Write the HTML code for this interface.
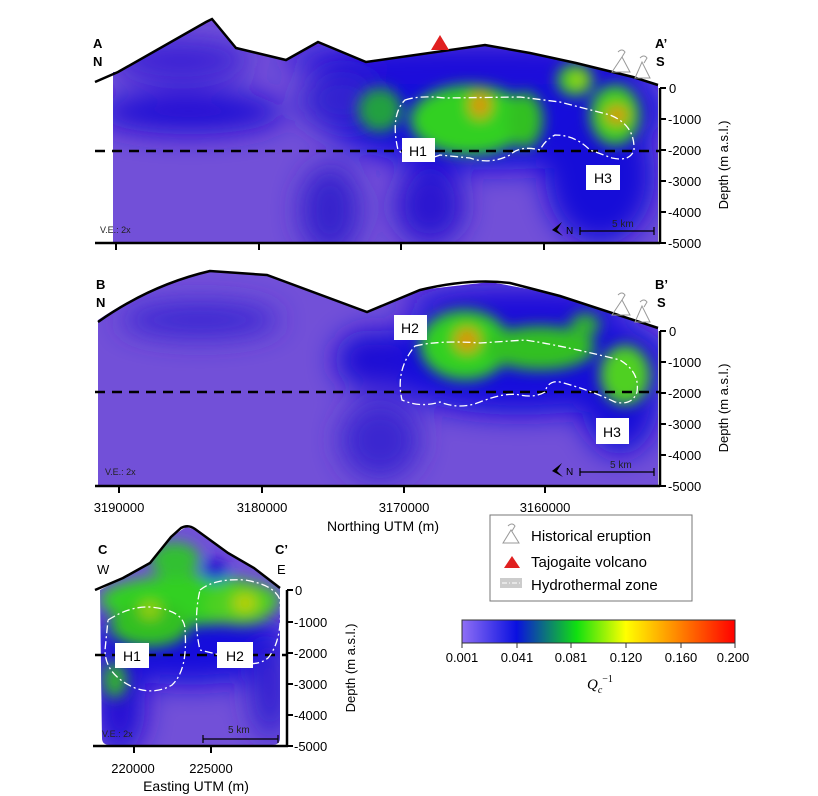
<!DOCTYPE html>
<html><head><meta charset="utf-8"><style>
body{margin:0;background:#fff;}
svg{display:block;font-family:"Liberation Sans",sans-serif;}
</style></head><body>
<svg width="818" height="796" viewBox="0 0 818 796" xmlns="http://www.w3.org/2000/svg">
<defs>
<filter id="b1" x="-50%" y="-50%" width="200%" height="200%"><feGaussianBlur stdDeviation="14"/></filter>
<filter id="b2" x="-50%" y="-50%" width="200%" height="200%"><feGaussianBlur stdDeviation="7"/></filter>
<clipPath id="cA"><path d="M113,72 L118,72 L206,22 L212,19 L217,25 L236,48 L286,60 L318,42 L366,62 L485,45 L530,53 L576,63 L633,77 L658,85 L658,243 L113,243Z"/></clipPath>
<clipPath id="cB"><path d="M98,320 Q150,285 210,271 L267,275 L367,312 L420,290 L490,282 L560,295 L658,328 L658,486 L98,486Z"/></clipPath>
<clipPath id="cC"><path d="M100,590 L123,578 L150,563 L171,537 L186,527 L197,530 L228,553 L254,568 L280,588 L280,738 Q280,745 272,745 L110,745 Q102,745 102,738Z"/></clipPath>
<linearGradient id="cb" x1="0" x2="1">
<stop offset="0" stop-color="#8f6ff5"/><stop offset="0.2" stop-color="#0a10e0"/><stop offset="0.42" stop-color="#10e010"/><stop offset="0.6" stop-color="#ffff00"/><stop offset="0.8" stop-color="#ff8000"/><stop offset="1" stop-color="#ff0000"/>
</linearGradient>
</defs>

<!-- Panel A -->
<g clip-path="url(#cA)">
<rect x="100" y="10" width="570" height="240" fill="#7250d8"/>
<g filter="url(#b1)">
<ellipse cx="190" cy="112" rx="95" ry="22" fill="#2010d4"/>
<ellipse cx="180" cy="60" rx="70" ry="20" fill="#3a20d4"/>
<ellipse cx="490" cy="110" rx="175" ry="60" fill="#1408dc"/>
<ellipse cx="600" cy="175" rx="55" ry="70" fill="#1408d8"/>
<ellipse cx="430" cy="205" rx="35" ry="40" fill="#2a18d0"/>
<ellipse cx="330" cy="210" rx="30" ry="45" fill="#3520cc"/>
<ellipse cx="480" cy="58" rx="200" ry="18" fill="#2010d8"/>
<ellipse cx="340" cy="100" rx="40" ry="30" fill="#3020d0"/>
</g>
<g filter="url(#b2)">
<ellipse cx="470" cy="120" rx="60" ry="35" fill="#30d020"/>
<ellipse cx="380" cy="110" rx="22" ry="22" fill="#20a040"/>
<ellipse cx="525" cy="120" rx="18" ry="28" fill="#30c020"/>
<ellipse cx="575" cy="80" rx="18" ry="16" fill="#40d020"/>
<ellipse cx="615" cy="115" rx="25" ry="30" fill="#40d020"/>
<ellipse cx="480" cy="105" rx="10" ry="13" fill="#e09000"/>
<ellipse cx="617" cy="115" rx="11" ry="9" fill="#e09000"/>
<ellipse cx="578" cy="80" rx="6" ry="6" fill="#c0d000"/>
</g>
</g>
<path d="M95,82 L118,72 L206,22 L212,19 L217,25 L236,48 L286,60 L318,42 L366,62 L485,45 L530,53 L576,63 L633,77 L658,85" fill="none" stroke="#000" stroke-width="2.5"/>
<polygon points="431,50 440,35 449,50" fill="#e02020"/>
<line x1="95" y1="151" x2="660" y2="151" stroke="#000" stroke-width="2.5" stroke-dasharray="10,7"/>
<path d="M405,100 Q420,95 445,98 L520,97 L560,102 L610,115 Q635,125 634,150 Q630,162 612,158 L590,150 Q575,135 555,135 Q545,140 540,150 Q520,145 510,155 Q490,165 470,158 L440,155 Q415,165 398,150 Q390,115 405,100Z" fill="none" stroke="#fff" stroke-width="1.3" stroke-dasharray="8,3,2,3"/>
<rect x="402" y="138" width="33" height="24" fill="#fff"/><text x="418" y="156" font-size="14" text-anchor="middle">H1</text>
<rect x="586" y="165" width="34" height="25" fill="#fff"/><text x="603" y="183" font-size="14" text-anchor="middle">H3</text>
<text x="100" y="233" font-size="9" fill="#222">V.E.: 2x</text>
<text x="612" y="227" font-size="10" fill="#222">5 km</text>
<path d="M580,231 L654,231 M580,227 L580,235 M654,227 L654,235" stroke="#000" stroke-width="1.2"/>
<path d="M562,222 L552,230 L563,236 L557,230Z" fill="#000"/><text x="566" y="234" font-size="10">N</text>
<line x1="95" y1="243" x2="660" y2="243" stroke="#000" stroke-width="2.5"/>
<path d="M116,243v7M259,243v7M401,243v7M544,243v7" stroke="#000" stroke-width="2"/>
<text x="93" y="48" font-size="13" font-weight="bold">A</text><text x="93" y="66" font-size="13" font-weight="bold">N</text>
<text x="655" y="48" font-size="13" font-weight="bold">A’</text><text x="656" y="66" font-size="13" font-weight="bold">S</text>
<g stroke="#999" fill="none" stroke-width="1"><path d="M612,72 L622,57 L630,72Z M618,52 q4,-4 7,0 l-3,5"/><path d="M635,78 L642,62 L650,78Z M640,58 q4,-4 7,0 l-3,5"/></g>
<line x1="660" y1="88" x2="660" y2="244" stroke="#000" stroke-width="2.5"/>
<g font-size="13"><text x="669" y="93">0</text><text x="668" y="124">-1000</text><text x="668" y="155">-2000</text><text x="668" y="186">-3000</text><text x="668" y="217">-4000</text><text x="668" y="248">-5000</text></g>
<path d="M660,88h6M660,119h6M660,150h6M660,181h6M660,212h6M660,243h6" stroke="#000" stroke-width="2"/>
<text transform="translate(728,165) rotate(-90)" font-size="13" text-anchor="middle">Depth (m a.s.l.)</text>

<!-- Panel B -->
<g clip-path="url(#cB)">
<rect x="90" y="260" width="580" height="240" fill="#7250d8"/>
<g filter="url(#b1)">
<ellipse cx="520" cy="360" rx="150" ry="55" fill="#1408dc"/>
<ellipse cx="620" cy="395" rx="40" ry="60" fill="#1408d8"/>
<ellipse cx="370" cy="360" rx="35" ry="30" fill="#1a10d4"/>
<ellipse cx="200" cy="320" rx="80" ry="18" fill="#3a25d2"/>
<ellipse cx="380" cy="440" rx="40" ry="40" fill="#3a28d0"/>
<ellipse cx="520" cy="300" rx="120" ry="15" fill="#2010d8"/>
</g>
<g filter="url(#b2)">
<ellipse cx="465" cy="345" rx="45" ry="35" fill="#30d020"/>
<ellipse cx="540" cy="348" rx="55" ry="22" fill="#30c020"/>
<ellipse cx="625" cy="375" rx="25" ry="30" fill="#50d020"/>
<ellipse cx="585" cy="325" rx="15" ry="12" fill="#30b030"/>
<ellipse cx="467" cy="340" rx="12" ry="12" fill="#e09000"/>
</g>
</g>
<path d="M98,322 Q150,285 210,271 L267,275 L367,312 L420,290 Q470,278 510,283 L560,296 L658,328" fill="none" stroke="#000" stroke-width="2.5"/>
<line x1="95" y1="392" x2="660" y2="392" stroke="#000" stroke-width="2.5" stroke-dasharray="10,7"/>
<path d="M415,346 Q440,340 480,343 L525,340 Q560,345 620,360 Q640,372 637,392 Q632,406 615,402 Q590,390 560,382 Q548,380 545,392 Q535,398 520,395 Q505,392 480,402 Q460,410 440,402 Q420,408 402,400 Q395,370 415,346Z" fill="none" stroke="#fff" stroke-width="1.3" stroke-dasharray="8,3,2,3"/>
<rect x="394" y="315" width="33" height="25" fill="#fff"/><text x="410" y="333" font-size="14" text-anchor="middle">H2</text>
<rect x="596" y="418" width="33" height="26" fill="#fff"/><text x="612" y="437" font-size="14" text-anchor="middle">H3</text>
<text x="105" y="475" font-size="9" fill="#222">V.E.: 2x</text>
<text x="610" y="468" font-size="10" fill="#222">5 km</text>
<path d="M580,472 L654,472 M580,468 L580,476 M654,468 L654,476" stroke="#000" stroke-width="1.2"/>
<path d="M562,463 L552,471 L563,477 L557,471Z" fill="#000"/><text x="566" y="475" font-size="10">N</text>
<line x1="95" y1="486" x2="660" y2="486" stroke="#000" stroke-width="2.5"/>
<path d="M119,486v7M262,486v7M404,486v7M545,486v7" stroke="#000" stroke-width="2"/>
<text x="96" y="289" font-size="13" font-weight="bold">B</text><text x="96" y="307" font-size="13" font-weight="bold">N</text>
<text x="655" y="289" font-size="13" font-weight="bold">B’</text><text x="657" y="307" font-size="13" font-weight="bold">S</text>
<g stroke="#999" fill="none" stroke-width="1"><path d="M612,315 L622,300 L630,315Z M618,295 q4,-4 7,0 l-3,5"/><path d="M635,322 L642,306 L650,322Z M640,302 q4,-4 7,0 l-3,5"/></g>
<line x1="660" y1="331" x2="660" y2="487" stroke="#000" stroke-width="2.5"/>
<g font-size="13"><text x="669" y="336">0</text><text x="668" y="367">-1000</text><text x="668" y="398">-2000</text><text x="668" y="429">-3000</text><text x="668" y="460">-4000</text><text x="668" y="491">-5000</text></g>
<path d="M660,331h6M660,362h6M660,393h6M660,424h6M660,455h6M660,486h6" stroke="#000" stroke-width="2"/>
<text transform="translate(728,408) rotate(-90)" font-size="13" text-anchor="middle">Depth (m a.s.l.)</text>
<g font-size="13" text-anchor="middle"><text x="119" y="512">3190000</text><text x="262" y="512">3180000</text><text x="404" y="512">3170000</text><text x="545" y="512">3160000</text></g>
<text x="383" y="531" font-size="14" text-anchor="middle">Northing UTM (m)</text>

<!-- Panel C -->
<g clip-path="url(#cC)">
<rect x="95" y="520" width="195" height="230" fill="#7250d8"/>
<g filter="url(#b1)">
<ellipse cx="190" cy="645" rx="100" ry="40" fill="#1408dc"/>
<ellipse cx="120" cy="705" rx="25" ry="50" fill="#2010d4"/>
<ellipse cx="270" cy="690" rx="20" ry="50" fill="#3020d0"/>
</g>
<g filter="url(#b2)">
<ellipse cx="190" cy="600" rx="90" ry="25" fill="#30d020"/>
<ellipse cx="150" cy="625" rx="40" ry="22" fill="#30c020"/>
<ellipse cx="240" cy="605" rx="35" ry="20" fill="#50d020"/>
<ellipse cx="175" cy="560" rx="25" ry="18" fill="#30c030"/>
<ellipse cx="115" cy="680" rx="12" ry="18" fill="#30b030"/>
<ellipse cx="215" cy="570" rx="12" ry="12" fill="#2010d0"/>
<ellipse cx="245" cy="603" rx="12" ry="9" fill="#c0d000"/>
<ellipse cx="150" cy="610" rx="10" ry="8" fill="#a0d000"/>
</g>
</g>
<path d="M95,590 L123,578 L150,563 L171,537 L181,528 Q188,524 195,529 L228,553 L254,568 L280,588" fill="none" stroke="#000" stroke-width="2.5"/>
<line x1="95" y1="655" x2="287" y2="655" stroke="#000" stroke-width="2.5" stroke-dasharray="10,7"/>
<path d="M108,620 Q130,606 150,607 Q185,610 185,630 Q188,670 172,685 Q155,695 135,688 Q105,675 105,650Z" fill="none" stroke="#fff" stroke-width="1.3" stroke-dasharray="8,3,2,3"/>
<path d="M200,590 Q215,578 245,580 Q275,585 280,600 Q283,640 268,658 Q255,668 240,660 L200,650 Q193,620 200,590Z" fill="none" stroke="#fff" stroke-width="1.3" stroke-dasharray="8,3,2,3"/>
<rect x="115" y="643" width="34" height="25" fill="#fff"/><text x="132" y="661" font-size="14" text-anchor="middle">H1</text>
<rect x="217" y="642" width="36" height="26" fill="#fff"/><text x="235" y="661" font-size="14" text-anchor="middle">H2</text>
<text x="102" y="737" font-size="9" fill="#222">V.E.: 2x</text>
<text x="228" y="733" font-size="10" fill="#222">5 km</text>
<path d="M203,739 L278,739 M203,735 L203,743 M278,735 L278,743" stroke="#000" stroke-width="1.2"/>
<line x1="93" y1="746" x2="288" y2="746" stroke="#000" stroke-width="2.5"/>
<path d="M134,746v7M211,746v7" stroke="#000" stroke-width="2"/>
<text x="98" y="554" font-size="13" font-weight="bold">C</text><text x="97" y="574" font-size="13">W</text>
<text x="275" y="554" font-size="13" font-weight="bold">C’</text><text x="277" y="574" font-size="13">E</text>
<line x1="287" y1="590" x2="287" y2="747" stroke="#000" stroke-width="2.5"/>
<g font-size="13"><text x="295" y="595">0</text><text x="294" y="627">-1000</text><text x="294" y="658">-2000</text><text x="294" y="689">-3000</text><text x="294" y="720">-4000</text><text x="294" y="751">-5000</text></g>
<path d="M287,590h6M287,622h6M287,653h6M287,684h6M287,715h6M287,746h6" stroke="#000" stroke-width="2"/>
<text transform="translate(355,668) rotate(-90)" font-size="13" text-anchor="middle">Depth (m a.s.l.)</text>
<g font-size="13" text-anchor="middle"><text x="133" y="773">220000</text><text x="211" y="773">225000</text></g>
<text x="196" y="791" font-size="14" text-anchor="middle">Easting UTM (m)</text>

<!-- Legend -->
<rect x="490" y="515" width="202" height="86" fill="#fff" stroke="#777" stroke-width="1"/>
<g stroke="#999" fill="none" stroke-width="1"><path d="M503,543 L511,530 L519,543Z M508,526 q4,-4 7,0 l-3,5"/></g>
<text x="531" y="541" font-size="15">Historical eruption</text>
<polygon points="504,568 512,556 520,568" fill="#e02020"/>
<text x="531" y="567" font-size="15">Tajogaite volcano</text>
<rect x="500" y="578" width="22" height="10" fill="#ccc"/><line x1="502" y1="583" x2="520" y2="583" stroke="#fff" stroke-dasharray="5,2,1,2"/>
<text x="531" y="590" font-size="15">Hydrothermal zone</text>

<!-- Colorbar -->
<rect x="462" y="620" width="273" height="23" fill="url(#cb)" stroke="#333" stroke-width="1"/>
<path d="M462,643v5M517,643v5M571,643v5M626,643v5M681,643v5M735,643v5" stroke="#333"/>
<g font-size="13" text-anchor="middle"><text x="462" y="662">0.001</text><text x="517" y="662">0.041</text><text x="571" y="662">0.081</text><text x="626" y="662">0.120</text><text x="681" y="662">0.160</text><text x="733" y="662">0.200</text></g>
<text x="587" y="689" font-size="15" font-style="italic" font-family="Liberation Serif,serif">Q<tspan font-size="10" dy="4">c</tspan><tspan font-size="10" dy="-11" font-style="normal">−1</tspan></text>
</svg>
</body></html>
